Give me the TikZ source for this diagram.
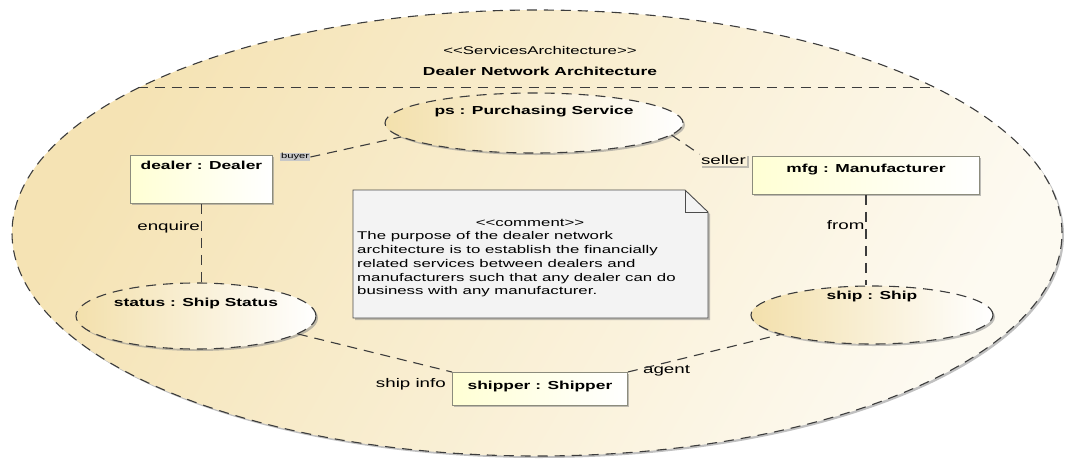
\documentclass[tikz,border=0pt]{standalone}
\usepackage{fontspec}
\setmainfont{Liberation Sans}[FakeStretch=1.5]
\usetikzlibrary{shapes.geometric,shadows,positioning}
\definecolor{archbeige}{RGB}{245,227,180}
\definecolor{archpale}{RGB}{253,250,241}
\definecolor{usebeige}{RGB}{243,224,172}
\definecolor{partyellow}{RGB}{255,255,212}
\definecolor{partline}{RGB}{140,140,125}
\definecolor{linegray}{RGB}{60,60,60}
\definecolor{notefill}{RGB}{243,243,243}
\newcommand{\namefont}{\fontsize{11.6}{14}\bfseries\selectfont}
\newcommand{\notefont}{\fontsize{11.2}{13.9}\selectfont}
\newcommand{\rolefont}{\fontsize{12.5}{15}\selectfont}
\newcommand{\tinyrolefont}{\fontsize{7.5}{9}\selectfont}
\begin{document}
\begin{tikzpicture}[x=1pt,y=1pt,
		shadowed/.style={drop shadow={shadow xshift=2pt,shadow yshift=-2pt,opacity=.55,fill=black!45}},
		dashline/.style={draw=linegray,line width=1.1pt,dash pattern=on 10pt off 7pt},
		archbubble/.style={ellipse,dashline,left color=archbeige,right color=archpale,shading angle=60,shadowed},
		usebubble/.style={ellipse,dashline,left color=usebeige,right color=white,inner sep=0pt,shadowed},
		partbox/.style={draw=partline,line width=0.9pt,left color=partyellow,right color=white,font=\namefont,inner xsep=4pt,inner ysep=4pt,anchor=north west,shadowed},
		role/.style={font=\rolefont,inner sep=1pt}]
		\useasboundingbox (0,0) rectangle (1066,-461);
		\node[archbubble,minimum width=1050,minimum height=446] (dna) at (537,-233) {};
		\node[font=\fontsize{11.2}{14}\selectfont] (stereo) at (540,-50) {<{}<ServicesArchitecture>{}>};
		\node[font=\namefont] (title) at (540,-71) {Dealer Network Architecture};
		\draw[dashline] (dna.160) -- (dna.20);
		\node[usebubble,minimum width=298,minimum height=60,label={[font=\namefont,yshift=11pt]center:ps : Purchasing Service}] (ps) at (534,-123) {};
		\node[usebubble,minimum width=240,minimum height=66,label={[font=\namefont,yshift=13pt]center:status : Ship Status}] (status) at (196,-316) {};
		\node[usebubble,minimum width=242,minimum height=58,label={[font=\namefont,yshift=19pt]center:ship : Ship}] (ship) at (872,-315) {};
		\node[partbox,minimum width=142,minimum height=48,text height=10pt,text depth=30pt] (dealer) at (130,-155) {dealer : Dealer};
		\node[partbox,minimum width=227,minimum height=38,text height=12pt,text depth=18pt] (mfg) at (752,-156) {mfg : Manufacturer};
		\node[partbox,minimum width=175,minimum height=33,text height=13pt,text depth=12pt] (shipper) at (452,-372) {shipper : Shipper};
		\draw[draw=black!70,fill=notefill,line width=0.9pt,shadowed] (353,-190) -- (685,-190) -- (708,-212) -- (708,-318) -- (353,-318) -- cycle;
		\draw[draw=black!70,line width=0.9pt] (685,-190) |- (708,-212);
		\node[font=\notefont] (notehead) at (530,-223) {<{}<comment>{}>};
		\node[font=\notefont,align=left,anchor=north west,inner sep=0pt] (notebody) at (357,-231) {The purpose of the dealer network\\architecture is to establish the financially\\related services between dealers and\\manufacturers such that any dealer can do\\business with any manufacturer.};
		\node[font=\tinyrolefont,fill=black!22,inner sep=1pt,right=7pt of dealer.north east,yshift=-2pt] (buyer) {buyer};
		\node[role,fill=archbeige!50,shadowed,left=5pt of mfg.north west,yshift=-4pt] (seller) {seller};
		\node[role,left=5pt of shipper.west,yshift=5pt] (shipinfo) {ship info};
		\node[role,right=14pt of shipper.north east,yshift=1pt] (agent) {agent};
		\draw[dashline] (buyer.east) -- (ps.186);
		\draw[dashline] (ps.-5) -- (seller.north west);
		\draw[dashline] (dealer.south) -- node[role,left,pos=.3] (enquire) {enquire} (dealer.south |- status.north);
		\draw[dashline] (mfg.south) -- node[role,left,pos=.33] (from) {from} (mfg.south |- ship.north);
		\draw[dashline] (status.-10) -- (shipper.north west);
		\draw[dashline] (shipper.north east) -- (ship.192);
\end{tikzpicture}
\end{document}
